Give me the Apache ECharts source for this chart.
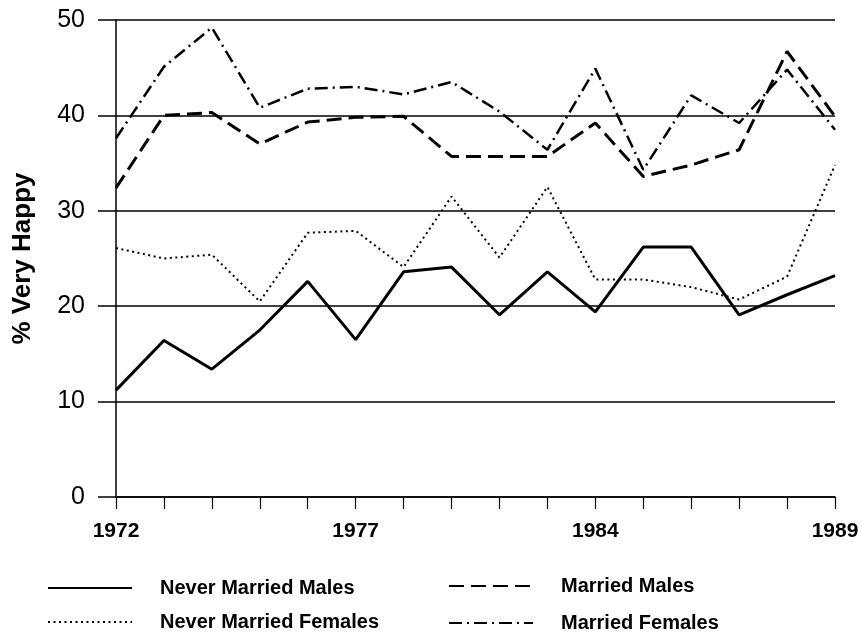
<!DOCTYPE html>
<html>
<head>
<meta charset="utf-8">
<script src="https://cdn.jsdelivr.net/npm/echarts@6/dist/echarts.min.js"></script>
<style>html,body{margin:0;padding:0;background:#fff;}#c{width:862px;height:634px;}</style>
</head>
<body>
<div id="c"></div>
<script>
var years = ['1972','1973','1974','1975','1976','1977','1978','1980','1982','1983','1984','1985','1986','1987','1988','1989'];
var neverMarriedMales   = [11.2, 16.4, 13.4, 17.5, 22.6, 16.5, 23.6, 24.1, 19.1, 23.6, 19.4, 26.2, 26.2, 19.1, 21.2, 23.2];
var marriedMales        = [32.4, 40.0, 40.3, 37.0, 39.3, 39.8, 39.9, 35.7, 35.7, 35.7, 39.2, 33.6, 34.8, 36.4, 46.7, 39.9];
var neverMarriedFemales = [26.1, 25.0, 25.4, 20.5, 27.7, 27.9, 24.1, 31.5, 25.1, 32.5, 22.8, 22.8, 22.0, 20.7, 23.1, 34.8];
var marriedFemales      = [37.6, 45.1, 49.2, 40.8, 42.8, 43.0, 42.2, 43.5, 40.4, 36.4, 44.9, 34.3, 42.1, 39.2, 44.8, 38.5];
var yTicks = [0, 10, 20, 30, 40, 50];

var FONT = '"Liberation Sans", Arial, sans-serif';
var chart = echarts.init(document.getElementById('c'), null, {renderer: 'canvas'});

function ser(name, data, width, type) {
  return {
    name: name, type: 'line', data: data, symbol: 'none', smooth: false,
    lineStyle: {color: '#000', width: width, type: type, cap: 'butt'},
    itemStyle: {color: '#000'},
    emphasis: {disabled: true}
  };
}

var legendText = {color: '#000', fontFamily: FONT, fontSize: 20, fontWeight: 'bold', padding: [0, 0, 0, 23], lineHeight: 20};

function legendCfg(names, left, top, gap) {
  return {
    data: names, orient: 'vertical', left: left, top: top, padding: 0,
    itemWidth: 84, itemHeight: 20, itemGap: gap, textStyle: legendText,
    itemStyle: {opacity: 0}, selectedMode: false
  };
}

chart.setOption({
  backgroundColor: '#fff',
  animation: false,
  grid: {left: 116, right: 27, top: 20, bottom: 137, containLabel: false},
  legend: [
    legendCfg(['Never Married Males', 'Never Married Females'], 47, 578, 14),
    legendCfg(['Married Males', 'Married Females'], 448, 576, 17)
  ],
  xAxis: {
    type: 'category', data: years, boundaryGap: false,
    axisLine: {lineStyle: {color: '#000', width: 1.5}},
    axisTick: {show: true, interval: 0, length: 12, lineStyle: {color: '#000', width: 1.2}},
    axisLabel: {interval: 4, margin: 24, color: '#000', fontFamily: FONT, fontSize: 21, fontWeight: 'bold'},
    splitLine: {show: false}
  },
  yAxis: {
    type: 'value', min: yTicks[0], max: yTicks[yTicks.length - 1], interval: 10,
    name: '% Very Happy', nameLocation: 'middle', nameRotate: 90, nameGap: 80,
    nameTextStyle: {color: '#000', fontFamily: FONT, fontSize: 26, fontWeight: 'bold'},
    axisLine: {show: true, lineStyle: {color: '#000', width: 1.5}},
    axisTick: {show: true, length: 18, lineStyle: {color: '#000', width: 1.5}},
    axisLabel: {margin: 31, color: '#000', fontFamily: FONT, fontSize: 25},
    splitLine: {show: true, lineStyle: {color: '#000', width: 1.5}}
  },
  series: [
    ser('Never Married Males', neverMarriedMales, 3, 'solid'),
    ser('Never Married Females', neverMarriedFemales, 2, [2, 3.5]),
    ser('Married Males', marriedMales, 3, [15, 7]),
    ser('Married Females', marriedFemales, 2.5, [13, 5, 2, 5])
  ]
});
</script>
</body>
</html>
